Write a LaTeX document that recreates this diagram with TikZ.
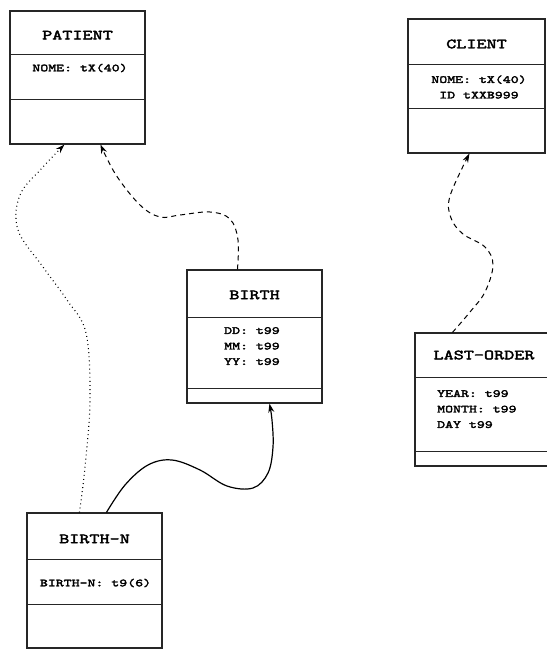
\documentclass[tikz,border=0pt]{standalone}
\usepackage{fontspec}
\setmonofont{Latin Modern Mono}[FakeStretch=1.4,FakeBold=3]
\usetikzlibrary{arrows.meta,calc}
\tikzset{
  x=1pt,y=-1pt,
  ent/.style={draw=black!85,line width=1.1pt,rectangle,inner sep=0pt},
  ttl/.style={font=\ttfamily\fontsize{14}{15}\selectfont,inner sep=0pt},
  att/.style={font=\ttfamily\fontsize{10.8}{15.5}\selectfont,inner sep=0pt,align=center},
  attl/.style={font=\ttfamily\fontsize{10.8}{15.5}\selectfont,inner sep=0pt,align=left,anchor=north west},
  dv/.style={draw=black!85,line width=1pt},
  tip/.style={-{Stealth[length=9pt,width=6pt]}},
  con/.style={tip,line width=1pt},
}
\begin{document}
\begin{tikzpicture}
\useasboundingbox (0,0) rectangle (547,649);
% PATIENT
\node[ent,minimum width=135,minimum height=133] (patient) at (77.5,77.5) {};
\draw[dv] (10,54) -- (145,54);
\draw[dv] (10,99) -- (145,99);
\node[ttl] (patientT) at (77.5,35) {PATIENT};
\node[att] (patientA) at (80,68) {NOME: tX(40)};
% CLIENT
\node[ent,minimum width=137,minimum height=134] (client) at (476.5,86) {};
\draw[dv] (408,64) -- (545,64);
\draw[dv] (408,108) -- (545,108);
\node[ttl] (clientT) at (476.5,44) {CLIENT};
\node[att] (clientA) at (479,87) {NOME: tX(40)\\ID tXXB999};
% BIRTH
\node[ent,minimum width=135,minimum height=133] (birth) at (254.5,336.5) {};
\draw[dv] (187,317) -- (322,317);
\draw[dv] (187,388) -- (322,388);
\node[ttl] (birthT) at (254.5,295) {BIRTH};
\node[attl] (birthA) at (224,327) {DD: t99\\MM: t99\\YY: t99};
% LAST-ORDER
\node[ent,minimum width=142,minimum height=133] (lastorder) at (486,399.5) {};
\draw[dv] (415,377) -- (557,377);
\draw[dv] (415,451) -- (557,451);
\node[ttl] (lastorderT) at (484,355) {LAST-ORDER};
\node[attl] (lastorderA) at (437,390) {YEAR: t99\\MONTH: t99\\DAY t99};
% BIRTH-N
\node[ent,minimum width=135,minimum height=135] (birthn) at (94.5,580.5) {};
\draw[dv] (27,559) -- (162,559);
\draw[dv] (27,604) -- (162,604);
\node[ttl] (birthnT) at (94.5,539) {BIRTH-N};
\node[att] (birthnA) at (95.5,583) {BIRTH-N: t9(6)};
% connector end points
\coordinate (bnA) at ($(birthn.north west)+(53,0)$);
\coordinate (bnB) at ($(birthn.north west)+(80,0)$);
\coordinate (paA) at ($(patient.south west)+(55,0)$);
\coordinate (paB) at ($(patient.south west)+(91,0)$);
\coordinate (biT) at ($(birth.north west)+(51,0)$);
\coordinate (biB) at ($(birth.south west)+(83,0)$);
\coordinate (loT) at ($(lastorder.north west)+(38,0)$);
\coordinate (clB) at ($(client.south west)+(62,0)$);
% dotted: BIRTH-N -> PATIENT
\draw[con,line width=1.1pt,dash pattern=on 0.9pt off 3.2pt] plot[smooth,tension=0.6] coordinates {(bnA) (85,467) (90,400) (86,333) (67,300) (43,267) (18,230) (20,195) (43,167) (paA)};
% dashed: BIRTH -> PATIENT
\draw[con,dash pattern=on 5pt off 4pt] plot[smooth,tension=0.6] coordinates {(biT) (238,240) (230,219) (210,212) (180,215) (160,217) (140,205) (116,175) (paB)};
% solid: BIRTH-N -> BIRTH
\draw[con,line width=1.2pt] plot[smooth,tension=0.6] coordinates {(bnB) (125,485) (148,465) (172,460) (200,470) (227,486) (253,488) (268,473) (273,447) (272,420) (biB)};
% dashed: LAST-ORDER -> CLIENT
\draw[con,dash pattern=on 5pt off 4pt] plot[smooth,tension=0.6] coordinates {(loT) (470,312) (485,292) (493,265) (485,247) (463,234) (451,218) (450,196) (clB)};
\end{tikzpicture}
\end{document}
